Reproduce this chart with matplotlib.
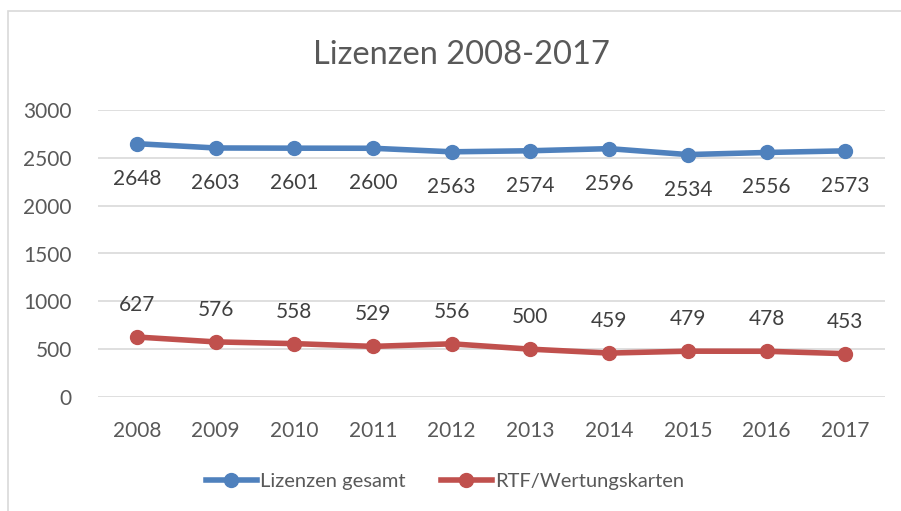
import matplotlib
matplotlib.use("Agg")
import matplotlib.pyplot as plt
from matplotlib.lines import Line2D
from matplotlib.patches import Rectangle

years = ["2008", "2009", "2010", "2011", "2012", "2013", "2014", "2015", "2016", "2017"]
lizenzen = [2648, 2603, 2601, 2600, 2563, 2574, 2596, 2534, 2556, 2573]
rtf = [627, 576, 558, 529, 556, 500, 459, 479, 478, 453]
series_names = ["Lizenzen gesamt", "RTF/Wertungskarten"]
yticks = [0, 500, 1000, 1500, 2000, 2500, 3000]

BLUE = "#4f81bd"
RED = "#c0504d"
TXT = "#595959"
FONT = "Lato"
FS = 15

plt.rcParams['font.family'] = [FONT, 'DejaVu Sans']

fig = plt.figure(figsize=(9.01, 5.11), dpi=100)
fig.patch.set_facecolor("white")
fig.add_artist(Rectangle((8/901, -0.05), 1.2, (511-11)/511 + 0.05, transform=fig.transFigure,
                         fill=False, edgecolor="#d9d9d9", lw=1.2))

ax = fig.add_axes([97.6/901, (511-397)/511, (884.6-97.6)/901, (397-110)/511])
x = list(range(len(years)))
ax.plot(x, lizenzen, color=BLUE, lw=4, marker="o", ms=10, solid_capstyle="round", zorder=3)
ax.plot(x, rtf, color=RED, lw=4, marker="o", ms=10, solid_capstyle="round", zorder=3)

for xi, v in zip(x, lizenzen):
    ax.annotate(str(v), (xi, v), xytext=(0, -35), textcoords="offset pixels",
                ha="center", va="center", fontsize=FS, color="#404040")
for xi, v in zip(x, rtf):
    ax.annotate(str(v), (xi, v), xytext=(0, 32), textcoords="offset pixels",
                ha="center", va="center", fontsize=FS, color="#404040")

ax.set_xlim(-0.5, len(years) - 0.5)
ax.set_ylim(0, 3000)
ax.set_yticks(yticks)
ax.set_yticklabels([str(t) for t in yticks])
ax.set_xticks(x)
ax.set_xticklabels(years)
ax.tick_params(axis="both", length=0, labelsize=FS, labelcolor=TXT)
ax.tick_params(axis="y", pad=18.5)
ax.tick_params(axis="x", pad=17)
ax.grid(axis="y", color="#d9d9d9", lw=1.2)
ax.set_axisbelow(True)
for s in ax.spines.values():
    s.set_visible(False)

fig.text(461.5/901, 1 - 55/511, "Lizenzen 2008-2017", ha="center", va="center",
         fontsize=23.5, color=TXT)

handles = [Line2D([0], [0], color=BLUE, lw=4, marker="o", ms=10),
           Line2D([0], [0], color=RED, lw=4, marker="o", ms=10)]
fig.legend(handles, series_names, loc="center", bbox_to_anchor=(445/901, 1 - 481/511),
           ncol=2, frameon=False, fontsize=14.5, labelcolor=TXT, handlelength=2.5,
           handletextpad=0.15, columnspacing=1.8)

fig.savefig("out.png", dpi=100, facecolor="white")
